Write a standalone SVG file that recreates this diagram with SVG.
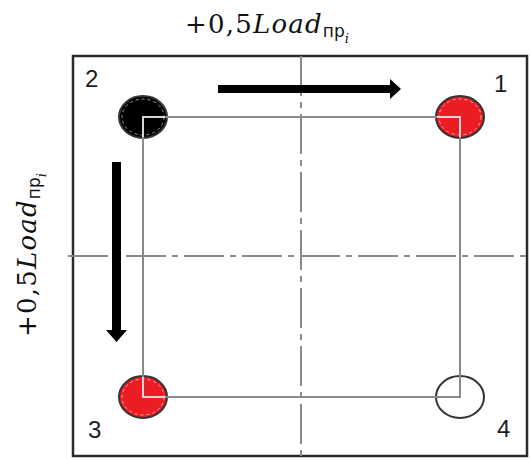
<svg xmlns="http://www.w3.org/2000/svg" width="530" height="461" viewBox="0 0 530 461">
  <style>
    .frame { fill: none; stroke: #2b2b2b; stroke-width: 2.5; }
    .axis { fill: none; stroke: #8a8a8a; stroke-width: 2; stroke-dasharray: 40 6 6 6; }
    .contour { fill: none; stroke: #8a8a8a; stroke-width: 2; }
    .inner { fill: none; stroke: #eeeeee; stroke-width: 1.5; }
    .bolt { stroke: #333333; stroke-width: 2; }
    .ring { fill: none; stroke: #ffffff; stroke-width: 1; stroke-dasharray: 3 3; opacity: 0.6; }
    .num { font-family: "Liberation Sans", Arial, sans-serif; font-size: 24px; fill: #1e1e1e; }
    .load { font-family: "DejaVu Serif", "Liberation Serif", serif; font-size: 26px; letter-spacing: 1.2px; fill: #111; }
    .load .it { font-style: italic; }
    .load .sub { font-family: "DejaVu Sans", "Liberation Sans", sans-serif; font-size: 17px; letter-spacing: 0; }
    .load .sub2 { font-family: "DejaVu Serif", serif; font-style: italic; font-size: 13px; letter-spacing: 0; }
    .arrow { fill: #000; }
  </style>

  <rect x="0" y="0" width="530" height="461" fill="#ffffff"/>

  <!-- outer plate -->
  <rect id="plate" class="frame" x="73" y="56" width="454" height="400"/>

  <!-- centre lines -->
  <g id="axes">
    <line class="axis" x1="301" y1="56" x2="301" y2="456"/>
    <line class="axis" x1="68" y1="256" x2="527" y2="256"/>
  </g>

  <!-- bolts -->
  <g id="bolt-1">
    <ellipse class="bolt" cx="460" cy="117" rx="24" ry="21" fill="#ec1c24"/>
    <ellipse class="ring" cx="460" cy="117" rx="21" ry="18"/>
  </g>
  <g id="bolt-2">
    <ellipse class="bolt" cx="143" cy="117" rx="24" ry="21" fill="#000000"/>
    <ellipse class="ring" cx="143" cy="117" rx="21" ry="18"/>
  </g>
  <g id="bolt-3">
    <ellipse class="bolt" cx="143" cy="397" rx="24" ry="21" fill="#ec1c24"/>
    <ellipse class="ring" cx="143" cy="397" rx="21" ry="18"/>
  </g>
  <g id="bolt-4">
    <ellipse class="bolt" cx="460" cy="397" rx="24" ry="21" fill="#ffffff" stroke="#111111"/>
  </g>

  <!-- connectors: bolt contour and load arrows -->
  <g id="connectors">
    <rect class="contour" x="143" y="117" width="317" height="280"/>
    <path class="inner" d="M143 137 V117 H165"/>
    <path class="inner" d="M437 117 H460 V137"/>
    <path class="inner" d="M143 377 V397 H165"/>
    <path class="arrow" d="M218 85 H390 V79 L401 89 L390 99 V93 H218 Z"/>
    <path class="arrow" d="M112 162 H121 V330 H127 L116.5 342 L106 330 H112 Z"/>
  </g>

  <!-- bolt numbers -->
  <text class="num" x="85" y="87">2</text>
  <text class="num" x="494" y="92">1</text>
  <text class="num" x="88" y="438">3</text>
  <text class="num" x="497" y="437">4</text>

  <!-- load labels -->
  <text class="load" x="185" y="33">+0,5<tspan class="it">Load</tspan><tspan class="sub" dy="4">пр</tspan><tspan class="sub2" dy="6">i</tspan></text>
  <text class="load" transform="translate(36 337) rotate(-90)" x="0" y="0">+0,5<tspan class="it">Load</tspan><tspan class="sub" dy="4">пр</tspan><tspan class="sub2" dy="6">i</tspan></text>
</svg>
